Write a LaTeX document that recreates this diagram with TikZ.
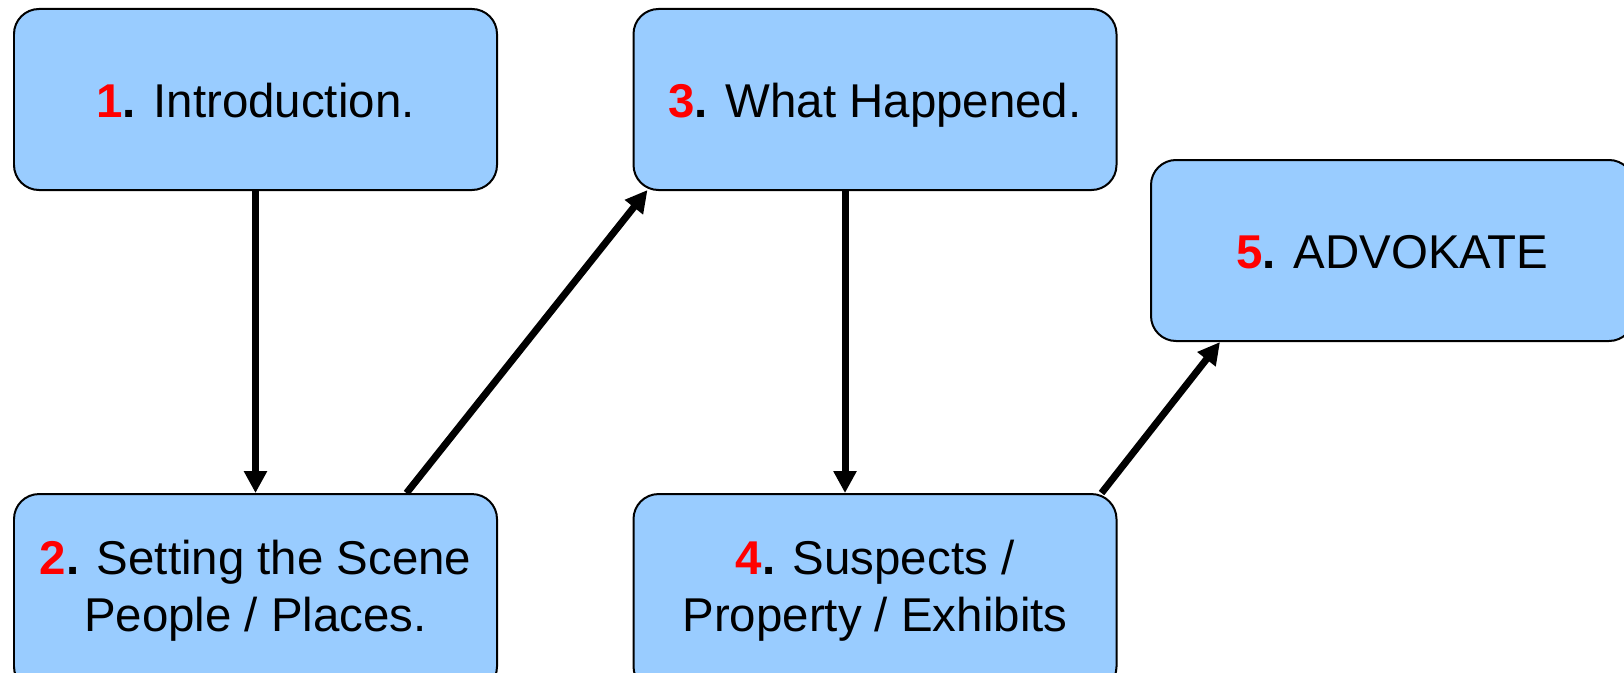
\documentclass[tikz,border=0pt]{standalone}
\usepackage{fontspec}
\setmainfont{Liberation Sans}
\usepackage{tikz}
\usetikzlibrary{arrows.meta,positioning}
\definecolor{boxblue}{HTML}{99CCFF}

\newcommand{\stepno}[1]{\textbf{\textcolor{red}{#1}.}}

\begin{document}
\begin{tikzpicture}[>={Triangle[length=0.44cm,width=0.44cm]},
  stage/.style={draw,fill=boxblue,line width=0.04cm,rounded corners=0.5cm,minimum width=9.66cm,minimum height=3.62cm,align=center,
    font=\fontsize{27}{32.5}\selectfont,execute at begin node=\rule{0pt}{28pt},execute at end node=\rule[-8pt]{0pt}{8pt}},
  flow/.style={->,line width=0.14cm}]
\useasboundingbox (0,0) rectangle (32.48,13.44);
% the five stages (lower row runs off the page)
\node[stage] (intro) at (5.11,11.45) {\stepno{1} Introduction.};
\node[stage,minimum height=3.95cm] (scene) at (5.11,1.584) {\stepno{2} Setting the Scene\\ People / Places.};
\node[stage] (happened) at (17.5,11.45) {\stepno{3} What Happened.};
\node[stage,minimum height=3.95cm] (suspects) at (17.5,1.584) {\stepno{4} Suspects /\\ Property / Exhibits};
\node[stage] (advokate) at (27.85,8.43) {\stepno{5} ADVOKATE};
% arrows between them
\draw[flow] (intro.south) -- (scene.north);
\draw[flow] ([xshift=3.02cm]scene.north) -- ([xshift=0.3cm,yshift=0.02cm]happened.south west);
\draw[flow] ([xshift=-0.6cm]happened.south) -- ([xshift=-0.6cm]suspects.north);
\draw[flow] ([xshift=-0.32cm]suspects.north east) -- ([xshift=1.4cm]advokate.south west);
\end{tikzpicture}
\end{document}
